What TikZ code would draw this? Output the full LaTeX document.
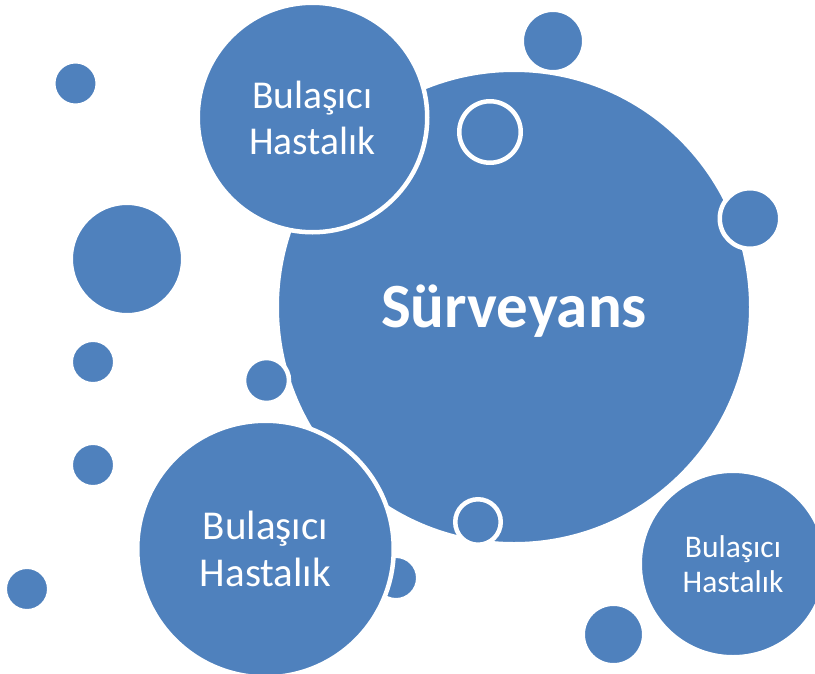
\documentclass[tikz,border=0pt]{standalone}
\usepackage{fontspec}
\setmainfont{Carlito}
\definecolor{bub}{RGB}{79,129,189}
\begin{document}
\begin{tikzpicture}[x=1pt,y=-1pt,
  bubble/.style={circle,fill=bub,draw=white,line width=4.5pt,inner sep=0pt,minimum size=#1,text=white,align=center}]
\useasboundingbox[fill=white] (0,0) rectangle (815,673);
% background dots
\node[bubble=44.5pt] (d1) at (75.5,83.5) {};
\node[bubble=112.5pt] (d2) at (127,259) {};
\node[bubble=44.5pt] (d3) at (93,362) {};
\node[bubble=44.5pt] (d4) at (93,465) {};
\node[bubble=44.5pt] (d5) at (27,589) {};
\node[bubble=62.5pt] (d6) at (553,41) {};
\node[bubble=61.5pt] (d7) at (613.5,634.5) {};
\node[bubble=44.5pt] (d8) at (396,578) {};
% main circle
\node[bubble=474.5pt] (main) at (514,307) {};
\node[text=white,inner sep=0pt,font=\fontsize{63}{70}\selectfont\bfseries] (mainlabel) at (514,311) {Sürveyans};
% dots on the main circle
\node[bubble=61.5pt] (r1) at (490,132) {};
\node[bubble=60.5pt] (r2) at (750,218.5) {};
\node[bubble=45.5pt] (r3) at (478,522) {};
\node[bubble=45pt] (r4) at (266.5,380.5) {};
% text circles
\node[bubble=229.5pt,font=\fontsize{39.5}{46}\selectfont] (t1) at (312.5,117.5) {Bulaşıcı\\Hastalık};
\node[bubble=256.5pt,font=\fontsize{41}{47}\selectfont] (t2) at (265.5,549) {Bulaşıcı\\Hastalık};
\node[bubble=186.5pt,font=\fontsize{31.5}{35}\selectfont] (t3) at (733,564) {Bulaşıcı\\Hastalık};
\end{tikzpicture}
\end{document}
